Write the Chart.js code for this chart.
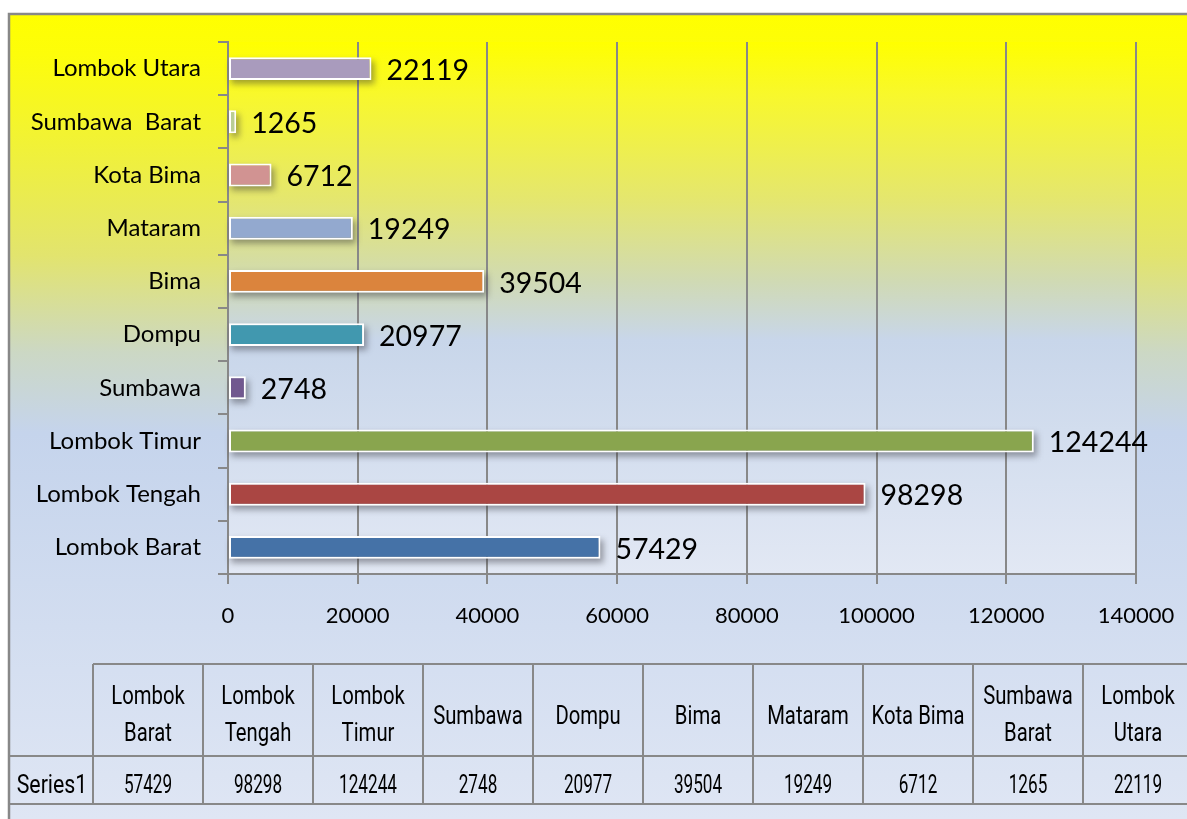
<!DOCTYPE html>
<html>
<head>
<meta charset="utf-8">
<title>Jumlah per Kabupaten/Kota</title>
<script src="https://cdn.jsdelivr.net/npm/chart.js@4"></script>
<style>
  body { margin: 0; background: #fff; }
</style>
</head>
<body>
<canvas id="bars" width="1187" height="819"></canvas>
<script>
const categories = ["Lombok Barat", "Lombok Tengah", "Lombok Timur", "Sumbawa", "Dompu", "Bima", "Mataram", "Kota Bima", "Sumbawa  Barat", "Lombok Utara"];
const values = [57429, 98298, 124244, 2748, 20977, 39504, 19249, 6712, 1265, 22119];
const seriesName = "Series1";
// header cells of the data table, one entry per line
const tableHeads = [["Lombok", "Barat"], ["Lombok", "Tengah"], ["Lombok", "Timur"], ["Sumbawa"], ["Dompu"], ["Bima"], ["Mataram"], ["Kota Bima"], ["Sumbawa", "Barat"], ["Lombok", "Utara"]];

const barColors = ["#4572a7", "#aa4643", "#89a54e", "#71588f", "#4198af", "#db843d", "#93a9cf", "#d19392", "#b9cd96", "#a99bbd"];
const lineGray = "#888888";

// page background, frame and plot area fill
const backdrop = {
  id: "backdrop",
  beforeDraw(chart) {
    const ctx = chart.ctx;
    const a = chart.chartArea;
    ctx.save();
    ctx.fillStyle = "#fff";
    ctx.fillRect(0, 0, chart.width, chart.height);

    let g = ctx.createLinearGradient(0, 14, 0, chart.height);
    g.addColorStop(0, "#ffff00");
    g.addColorStop(0.05, "#fdfd0a");
    g.addColorStop(0.3, "#e2e46e");
    g.addColorStop(0.42, "#ccd8c4");
    g.addColorStop(0.52, "#c5d4ec");
    g.addColorStop(1, "#dfe6f4");
    ctx.fillStyle = g;
    ctx.fillRect(9, 14, chart.width, chart.height);

    g = ctx.createLinearGradient(0, a.top, 0, a.bottom);
    g.addColorStop(0, "#ffff00");
    g.addColorStop(0.1, "#f8f82c");
    g.addColorStop(0.3, "#e4e670");
    g.addColorStop(0.45, "#d0dab4");
    g.addColorStop(0.56, "#c8d6ea");
    g.addColorStop(1, "#e2e8f4");
    ctx.fillStyle = g;
    ctx.fillRect(a.left, a.top, a.right - a.left, a.bottom - a.top);
    ctx.restore();
  },
  afterDraw(chart) {
    const ctx = chart.ctx;
    ctx.save();
    ctx.strokeStyle = lineGray;
    ctx.lineWidth = 2.5;
    ctx.strokeRect(9, 14, chart.width + 20, chart.height + 20);
    ctx.restore();
  }
};

// soft drop shadow under every bar
const barShadow = {
  id: "barShadow",
  beforeDatasetsDraw(chart) {
    const ctx = chart.ctx;
    ctx.save();
    ctx.filter = "blur(3px)";
    ctx.fillStyle = "rgba(50,50,60,0.45)";
    chart.getDatasetMeta(0).data.forEach(bar => {
      const p = bar.getProps(["x", "y", "base", "height"], true);
      ctx.fillRect(p.base + 2, p.y - p.height / 2 + 4, p.x - p.base + 1, p.height);
    });
    ctx.restore();
  }
};

// value printed at the end of each bar
const valueLabels = {
  id: "valueLabels",
  afterDatasetsDraw(chart) {
    const ctx = chart.ctx;
    ctx.save();
    ctx.font = "28.5px Lato";
    ctx.fillStyle = "#000";
    ctx.textAlign = "left";
    ctx.textBaseline = "middle";
    chart.getDatasetMeta(0).data.forEach((bar, i) => {
      const p = bar.getProps(["x", "y"], true);
      ctx.fillText(String(values[i]), p.x + 15, p.y + 2);
    });
    ctx.restore();
  }
};

// data table under the x axis
const dataTable = {
  id: "dataTable",
  afterDraw(chart) {
    const ctx = chart.ctx;
    const x0 = 93, colW = 110;
    const top = 664, mid = 756, bottom = 804;
    ctx.save();
    ctx.strokeStyle = lineGray;
    ctx.lineWidth = 2;
    ctx.beginPath();
    ctx.moveTo(x0, top); ctx.lineTo(chart.width, top);
    ctx.moveTo(9, mid); ctx.lineTo(chart.width, mid);
    ctx.moveTo(9, bottom); ctx.lineTo(chart.width, bottom);
    for (let i = 0; i <= categories.length; i++) {
      const x = x0 + i * colW;
      ctx.moveTo(x, top); ctx.lineTo(x, bottom);
    }
    ctx.stroke();

    ctx.fillStyle = "#000";
    ctx.font = "26px Roboto";
    ctx.textAlign = "center";
    ctx.textBaseline = "alphabetic";
    // narrow, tall lettering: words are squeezed less than digits
    const put = (txt, cx, by, sx) => {
      ctx.save();
      ctx.translate(cx, by);
      ctx.scale(sx, 1);
      ctx.fillText(txt, 0, 0);
      ctx.restore();
    };
    put(seriesName, (9 + x0) / 2 + 1, 793, 0.82);
    tableHeads.forEach((lines, i) => {
      const cx = x0 + i * colW + colW / 2;
      if (lines.length === 1) {
        put(lines[0], cx, 724, 0.78);
      } else {
        put(lines[0], cx, 704, 0.78);
        put(lines[1], cx, 741, 0.78);
      }
      put(String(values[i]), cx, 793, 0.66);
    });
    ctx.restore();
  }
};

new Chart(document.getElementById("bars"), {
  type: "bar",
  data: {
    labels: categories,
    datasets: [{
      label: seriesName,
      data: values,
      backgroundColor: barColors,
      borderColor: "#ffffff",
      borderWidth: 2,
      borderSkipped: false,
      barPercentage: 0.43,
      categoryPercentage: 1
    }]
  },
  options: {
    indexAxis: "y",
    responsive: false,
    animation: false,
    layout: { padding: { top: 42, right: 51, bottom: 0, left: 0 } },
    plugins: {
      legend: { display: false },
      tooltip: { enabled: false }
    },
    scales: {
      x: {
        min: 0,
        max: 140000,
        ticks: {
          stepSize: 20000,
          padding: 19,
          color: "#000",
          font: { family: "Lato", size: 22 },
          callback: v => String(v)
        },
        grid: { color: lineGray, lineWidth: 2, tickLength: 10 },
        border: { color: lineGray, width: 2 },
        afterFit(scale) {
          scale.height = 245;
          // the layout padding already leaves room for the last tick label
          scale.paddingLeft = 0;
          scale.paddingRight = 0;
        }
      },
      y: {
        reverse: true,
        ticks: {
          padding: 17,
          color: "#000",
          font: { family: "Lato", size: 24 }
        },
        grid: { drawOnChartArea: false, color: lineGray, lineWidth: 2, tickLength: 10 },
        border: { color: lineGray, width: 2 },
        afterFit(scale) { scale.width = 228; }
      }
    }
  },
  plugins: [backdrop, barShadow, valueLabels, dataTable]
});
</script>
</body>
</html>
